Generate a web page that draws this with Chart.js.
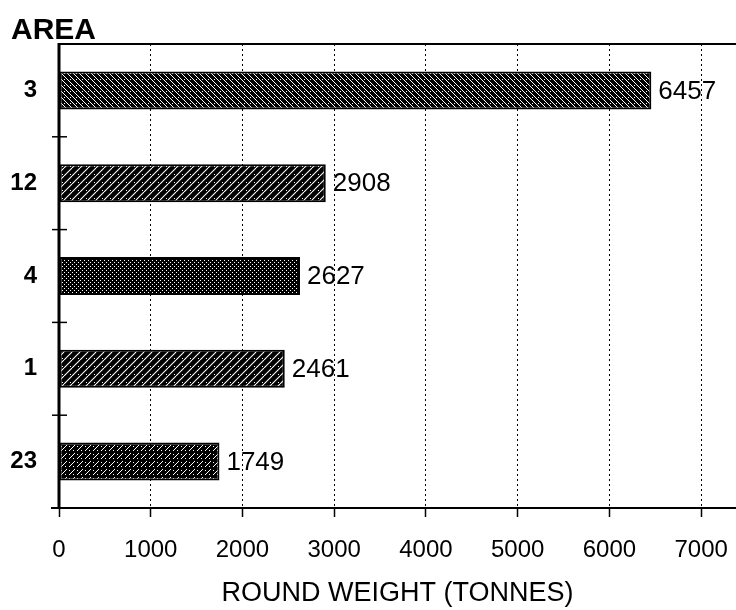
<!DOCTYPE html>
<html>
<head>
<meta charset="utf-8">
<script src="https://cdn.jsdelivr.net/npm/chart.js@4/dist/chart.umd.min.js"></script>
<style>
  html, body { margin: 0; padding: 0; background: #fff; }
  #wrap { width: 736px; height: 610px; }
</style>
</head>
<body>
<div id="wrap"><canvas id="c" width="736" height="610"></canvas></div>
<script>
// ---- data ----
const categories = ['3', '12', '4', '1', '23'];
const weights = [6457, 2908, 2627, 2461, 1749];
const xTickValues = [0, 1000, 2000, 3000, 4000, 5000, 6000, 7000];
const yTitle = 'AREA';
const xTitle = 'ROUND WEIGHT (TONNES)';

const FONT = '"Liberation Sans", Arial, Helvetica, sans-serif';

// ---- hatch patterns ----
function makePattern(size, draw) {
  const t = document.createElement('canvas');
  t.width = size; t.height = size;
  const g = t.getContext('2d');
  g.fillStyle = '#000';
  g.fillRect(0, 0, size, size);
  g.fillStyle = '#fff';
  g.strokeStyle = '#fff';
  draw(g, size);
  return document.getElementById('c').getContext('2d').createPattern(t, 'repeat');
}
const patCross = makePattern(6, (g, s) => {
  for (let i = 0; i < s; i++) { g.fillRect(i, i, 1, 1); }
  g.fillRect(4, 1, 1, 1);
});
const patDiag = makePattern(8, (g, s) => {
  g.lineWidth = 1.1;
  for (const o of [-s, 0, s]) {
    g.beginPath(); g.moveTo(o, s); g.lineTo(o + s, 0); g.stroke();
  }
  g.fillRect(6, 6, 1, 1);
});
const patDots = makePattern(4, (g, s) => {
  g.fillRect(0, 0, 1, 1); g.fillRect(2, 2, 1, 1);
});
const patMix = makePattern(8, (g, s) => {
  g.lineWidth = 1.0;
  for (const o of [-s, 0, s]) {
    g.beginPath(); g.moveTo(o, s); g.lineTo(o + s, 0); g.stroke();
  }
  g.fillStyle = '#000'; g.fillRect(3, 3, 2, 2);
  g.fillStyle = '#fff'; g.fillRect(5, 6, 1, 1); g.fillRect(1, 2, 1, 1);
});
const barFills = [patCross, patDiag, patDots, patDiag, patMix];

// ---- plugins ----
const decor = {
  id: 'decor',
  beforeDraw(chart) {
    const ctx = chart.ctx;
    const meta = chart.getDatasetMeta(0);
    ctx.save();
    ctx.fillStyle = '#000';
    ctx.font = '26px ' + FONT;
    ctx.textAlign = 'left';
    ctx.textBaseline = 'middle';
    meta.data.forEach((bar, i) => {
      ctx.fillText(String(weights[i]), bar.x + 7, bar.y + 1);
    });
    ctx.font = 'bold 30px ' + FONT;
    ctx.textBaseline = 'alphabetic';
    ctx.fillText(yTitle, 11, 39);
    ctx.restore();
  },
  afterDatasetsDraw(chart) {
    const ctx = chart.ctx;
    const a = chart.chartArea;
    const ys = chart.scales.y;
    ctx.save();
    ctx.strokeStyle = '#000';
    ctx.lineWidth = 2;
    ctx.beginPath(); ctx.moveTo(a.left, a.top); ctx.lineTo(a.right, a.top); ctx.stroke();
    ctx.beginPath(); ctx.moveTo(a.left - 8, a.bottom); ctx.lineTo(a.right, a.bottom); ctx.stroke();
    ctx.lineWidth = 3;
    ctx.beginPath(); ctx.moveTo(a.left, a.top - 1); ctx.lineTo(a.left, a.bottom + 1); ctx.stroke();
    ctx.lineWidth = 1.5;
    for (let i = 0; i < categories.length - 1; i++) {
      const y = (ys.getPixelForValue(i) + ys.getPixelForValue(i + 1)) / 2;
      ctx.beginPath(); ctx.moveTo(a.left - 7, y); ctx.lineTo(a.left + 8, y); ctx.stroke();
    }
    ctx.restore();
  }
};

new Chart(document.getElementById('c'), {
  type: 'bar',
  data: {
    labels: categories,
    datasets: [{
      data: weights,
      backgroundColor: barFills,
      borderColor: '#000',
      borderWidth: 2,
      borderSkipped: false,
      barPercentage: 0.41,
      categoryPercentage: 1.0
    }]
  },
  options: {
    indexAxis: 'y',
    responsive: false,
    animation: false,
    events: [],
    layout: { padding: { top: 44, left: 0, right: 0, bottom: 0 } },
    plugins: {
      legend: { display: false },
      tooltip: { enabled: false },
      title: { display: false }
    },
    scales: {
      x: {
        type: 'linear',
        min: 0,
        max: 7380,
        afterBuildTicks(scale) {
          scale.ticks = xTickValues.map(v => ({ value: v }));
        },
        afterFit(scale) {
          scale.height = 102;
          scale.paddingRight = 0;
          scale.paddingLeft = 0;
        },
        grid: {
          display: true,
          drawOnChartArea: true,
          color: '#000',
          lineWidth: 1,
          drawTicks: true,
          tickLength: 9,
          tickWidth: 1.5,
          tickColor: '#000',
          tickBorderDash: []
        },
        border: { display: false, dash: [2, 3] },
        ticks: {
          color: '#000',
          font: { family: FONT, size: 24 },
          padding: 19,
          maxRotation: 0,
          autoSkip: false,
          callback: v => String(v)
        },
        title: {
          display: true,
          text: xTitle,
          color: '#000',
          font: { family: FONT, size: 27 },
          padding: { top: 0, bottom: 0 }
        }
      },
      y: {
        type: 'category',
        offset: true,
        afterFit(scale) { scale.width = 59; },
        grid: { display: false, drawTicks: false },
        border: { display: false },
        ticks: {
          color: '#000',
          font: { family: FONT, size: 24, weight: 'bold' },
          padding: 22
        }
      }
    }
  },
  plugins: [decor]
});
</script>
</body>
</html>
